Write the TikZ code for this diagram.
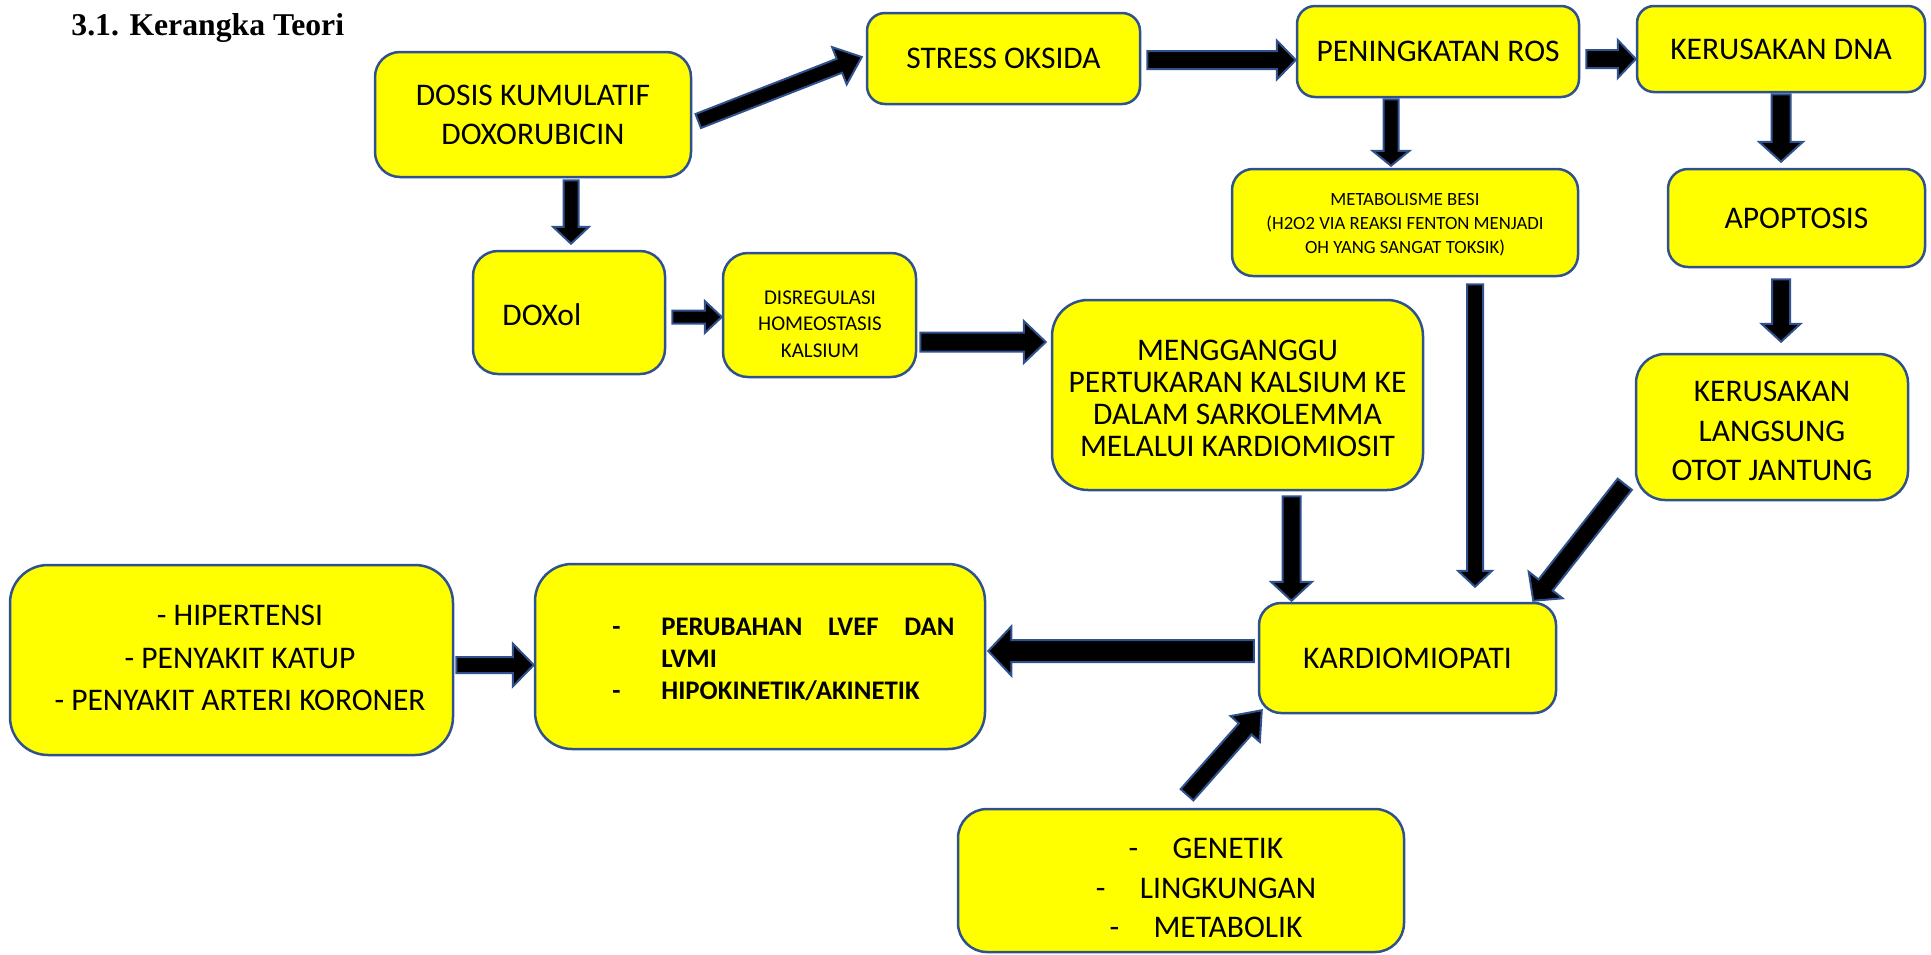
\documentclass[tikz,border=0pt]{standalone}
\usepackage{fontspec}
\setmainfont{Carlito}
\newfontfamily\titlefont{Liberation Serif}
\usetikzlibrary{calc}
\definecolor{bordc}{HTML}{2F528F}
\definecolor{boxy}{HTML}{FFFF00}
\tikzset{
  box/.style={draw=bordc, line width=1.25pt, fill=boxy, inner sep=0pt, align=center, text=black},
  arrowsty/.style={draw=bordc, fill=black, line width=1pt, line join=miter},
  txt/.style={inner sep=0pt, align=center, text=black},
  bigtxt/.style={font=\fontsize{15.75pt}{19pt}\selectfont},
}
\newcommand\blkarrow[5]{%
  \coordinate (bah) at ($(#2)!#5!(#1)$);
  \path[arrowsty] ($(#1)!#3!90:(#2)$) -- ($(bah)!#3!90:(#2)$) -- ($(bah)!#4!90:(#2)$) -- (#2)
     -- ($(bah)!#4!-90:(#2)$) -- ($(bah)!#3!-90:(#2)$) -- ($(#1)!#3!-90:(#2)$) -- cycle;
}
\begin{document}
\begin{tikzpicture}[x=0.5pt, y=-0.5pt]
\useasboundingbox (0,0) rectangle (1931,954);

% title
\node[anchor=base west, inner sep=0pt, font=\titlefont\bfseries\fontsize{15.85pt}{19pt}\selectfont] (title) at (71,35) {3.1. Kerangka Teori};

% boxes
\node[box, font=\fontsize{15.75pt}{19.5pt}\selectfont, rounded corners=12.5pt, minimum width=158pt, minimum height=62.5pt] (dosis) at (533,114.5) {DOSIS KUMULATIF\\DOXORUBICIN};
\node[box, bigtxt, rounded corners=9pt, minimum width=136.5pt, minimum height=45.5pt] (stress) at (1003.5,58.5) {STRESS OKSIDA};
\node[box, bigtxt, rounded corners=9pt, minimum width=141pt, minimum height=45.5pt] (ros) at (1438,51.5) {PENINGKATAN ROS};
\node[box, bigtxt, rounded corners=8.5pt, minimum width=144pt, minimum height=43pt] (dna) at (1781,49) {KERUSAKAN DNA};
\node[box, rounded corners=10.5pt, minimum width=173pt, minimum height=53.5pt] (met) at (1405,222.5) {};
\node[txt, font=\fontsize{9.35pt}{12.1pt}\selectfont] (mett) at (1405,225) {METABOLISME BESI\\(H2O2 VIA REAKSI FENTON MENJADI\\OH YANG SANGAT TOKSIK)};
\node[box, bigtxt, rounded corners=10pt, minimum width=128.5pt, minimum height=49pt] (apop) at (1796.5,218) {APOPTOSIS};
\node[box, rounded corners=12.5pt, minimum width=96pt, minimum height=61.5pt] (doxol) at (569,312.5) {};
\node[txt, bigtxt, anchor=west] (doxolt) at (502,315) {DOXol};
\node[box, rounded corners=12.5pt, minimum width=96.5pt, minimum height=62pt] (disreg) at (819.5,315) {};
\node[txt, font=\fontsize{10.5pt}{13.25pt}\selectfont] (disregt) at (820,324) {DISREGULASI\\HOMEOSTASIS\\KALSIUM};
\node[box, rounded corners=18pt, minimum width=185.5pt, minimum height=95pt] (meng) at (1237.5,395) {};
\node[txt, font=\fontsize{15.75pt}{16pt}\selectfont] (mengt) at (1237.5,398) {MENGGANGGU\\PERTUKARAN KALSIUM KE\\DALAM SARKOLEMMA\\MELALUI KARDIOMIOSIT};
\node[box, rounded corners=14.5pt, minimum width=136pt, minimum height=73pt] (kl) at (1772,427) {};
\node[txt, font=\fontsize{15.75pt}{19.75pt}\selectfont] (klt) at (1772,431) {KERUSAKAN\\LANGSUNG\\OTOT JANTUNG};
\node[box, bigtxt, rounded corners=11pt, minimum width=148.5pt, minimum height=55pt] (kardio) at (1407.5,658) {KARDIOMIOPATI};
\node[box, rounded corners=19pt, minimum width=221.5pt, minimum height=95pt] (hip) at (231.5,660) {};
\node[txt, font=\fontsize{15.75pt}{21.25pt}\selectfont] (hipt) at (240,658) {- HIPERTENSI\\- PENYAKIT KATUP\\- PENYAKIT ARTERI KORONER};
\node[box, rounded corners=18.5pt, minimum width=225pt, minimum height=92.5pt] (perub) at (760,656.5) {};
\node[txt, anchor=west, align=left, font=\bfseries\fontsize{13.4pt}{16pt}\selectfont] (perubt) at (612,659)
  {\makebox[24.5pt][l]{-}\makebox[146.5pt][s]{PERUBAHAN LVEF DAN}\\
   \makebox[24.5pt][l]{}LVMI\\
   \makebox[24.5pt][l]{-}HIPOKINETIK/AKINETIK};
\node[box, rounded corners=14.5pt, minimum width=223pt, minimum height=71.5pt] (gen) at (1181,880.5) {};
\node[txt, font=\fontsize{15.75pt}{19.75pt}\selectfont] (gent) at (1206,888) {\makebox[22pt][l]{-}GENETIK\\\makebox[22pt][l]{-}LINGKUNGAN\\\makebox[22pt][l]{-}METABOLIK};

% arrows
\coordinate (a1s) at ($(dosis.south -| doxol.north)+(2,2)$);
\coordinate (a1e) at ($(doxol.north)+(2,-6)$);
\blkarrow{a1s}{a1e}{3.75pt}{9pt}{8.5pt}

\coordinate (a2s) at ($(dosis.east)+(6,6.5)$);
\coordinate (a2e) at ($(stress.west)+(-4,-1.5)$);
\blkarrow{a2s}{a2e}{3.75pt}{10pt}{12pt}

\coordinate (a3s) at ($(stress.east)+(6,1.5)$);
\coordinate (a3e) at (ros.west |- a3s);
\blkarrow{a3s}{a3e}{4.5pt}{9.75pt}{9.5pt}

\coordinate (a4s) at ($(ros.east)+(6,7.5)$);
\coordinate (a4e) at (dna.west |- a4s);
\blkarrow{a4s}{a4e}{4.5pt}{9.5pt}{9pt}

\coordinate (a5s) at ($(ros.south)+(-47,1)$);
\coordinate (a5e) at ($(a5s |- met.north)+(0,-2)$);
\blkarrow{a5s}{a5e}{3.75pt}{9.25pt}{7.5pt}

\coordinate (a6s) at ($(dna.south)+(0,1)$);
\coordinate (a6e) at ($(a6s |- apop.north)+(0,-6)$);
\blkarrow{a6s}{a6e}{4.75pt}{11pt}{10pt}

\coordinate (a7s) at ($(apop.south -| kl.north)+(9,11)$);
\coordinate (a7e) at ($(kl.north)+(9,-11)$);
\blkarrow{a7s}{a7e}{4.5pt}{9.75pt}{9pt}

\coordinate (a8s) at ($(doxol.east)+(6,4.5)$);
\coordinate (a8e) at (disreg.west |- a8s);
\blkarrow{a8s}{a8e}{3.25pt}{8pt}{8.5pt}

\coordinate (a9s) at ($(disreg.east)+(3,27)$);
\coordinate (a9e) at ($(meng.west |- a9s)+(-5,0)$);
\blkarrow{a9s}{a9e}{4.75pt}{10.5pt}{11pt}

\coordinate (a10s) at ($(meng.south)+(54,5)$);
\coordinate (a10e) at ($(a10s |- kardio.north)+(0,-1)$);
\blkarrow{a10s}{a10e}{4.5pt}{10.25pt}{9.5pt}

\coordinate (a11s) at ($(met.south)+(70,7)$);
\coordinate (a11e) at ($(a11s |- kardio.north)+(0,-15)$);
\blkarrow{a11s}{a11e}{4pt}{8.5pt}{8pt}

\coordinate (a12s) at ($(kl.south west)+(-10,-17)$);
\coordinate (a12e) at ($(kardio.north east)+(-24,-1)$);
\blkarrow{a12s}{a12e}{4.5pt}{10.75pt}{10pt}

\coordinate (a13s) at ($(kardio.west)+(-4,-7)$);
\coordinate (a13e) at ($(perub.east |- a13s)+(2,0)$);
\blkarrow{a13s}{a13e}{5.5pt}{12.25pt}{11.5pt}

\coordinate (a14s) at ($(hip.east)+(2,5)$);
\coordinate (a14e) at (perub.west |- a14s);
\blkarrow{a14s}{a14e}{4pt}{10.75pt}{10.5pt}

\coordinate (a15s) at ($(gen.north)+(6,-13)$);
\coordinate (a15e) at ($(kardio.south west)+(4,-4)$);
\blkarrow{a15s}{a15e}{4.25pt}{9.75pt}{12.5pt}
\end{tikzpicture}
\end{document}
